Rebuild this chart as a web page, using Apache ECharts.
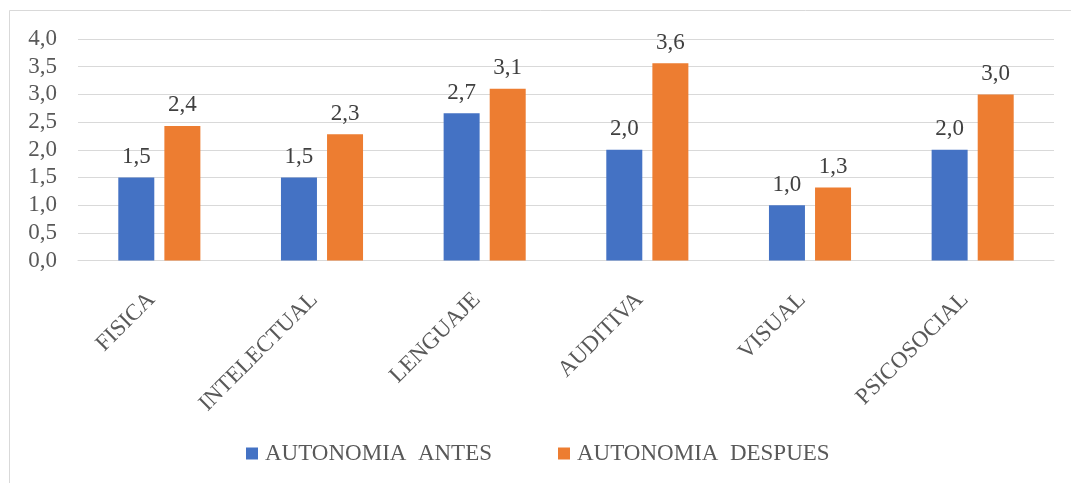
<!DOCTYPE html>
<html>
<head>
<meta charset="utf-8">
<script src="https://cdn.jsdelivr.net/npm/echarts@6/dist/echarts.min.js"></script>
<style>
  html, body { margin: 0; padding: 0; background: #ffffff; }
  #chart { width: 1071px; height: 483px; }
</style>
</head>
<body>
<div id="chart"></div>
<script>
// Autonomy scores by disability type, before and after
const categories = ['FISICA', 'INTELECTUAL', 'LENGUAJE', 'AUDITIVA', 'VISUAL', 'PSICOSOCIAL'];
const antes = [1.5, 1.5, 2.66, 2.0, 1.0, 2.0];
const despues = [2.43, 2.28, 3.1, 3.56, 1.32, 3.0];
const seriesNames = ['AUTONOMIA  ANTES', 'AUTONOMIA  DESPUES'];
const yTicks = [0, 0.5, 1, 1.5, 2, 2.5, 3, 3.5, 4];

const FONT = '"Liberation Serif", "Times New Roman", serif';
const fmt = v => Number(v).toFixed(1).replace('.', ',');

const chart = echarts.init(document.getElementById('chart'), null, { renderer: 'canvas' });

const labelStyle = {
  show: true,
  position: 'top',
  distance: 9,
  fontFamily: FONT,
  fontSize: 23,
  color: '#404040',
  formatter: p => fmt(p.value)
};

chart.setOption({
  animation: false,
  backgroundColor: '#ffffff',
  color: ['#4472C4', '#ED7D31'],
  graphic: [
    { type: 'line', shape: { x1: 9.5, y1: 10.5, x2: 1071, y2: 10.5 }, style: { stroke: '#d9d9d9', lineWidth: 1 } },
    { type: 'line', shape: { x1: 9.5, y1: 10.5, x2: 9.5, y2: 483 }, style: { stroke: '#d9d9d9', lineWidth: 1 } }
  ],
  grid: { left: 78, right: 17, top: 39, bottom: 222.5, containLabel: false },
  legend: {
    top: 437,
    left: 241,
    itemWidth: 12,
    itemHeight: 12,
    itemGap: 66,
    icon: 'rect',
    textStyle: { fontFamily: FONT, fontSize: 23, color: '#595959', padding: [0, 0, 0, 2] },
    data: seriesNames
  },
  xAxis: {
    type: 'category',
    data: categories,
    axisLine: { show: true, lineStyle: { color: '#d9d9d9' } },
    axisTick: { show: false },
    axisLabel: {
      rotate: 45,
      margin: 28,
      padding: [0, 11, 0, 0],
      interval: 0,
      fontFamily: FONT,
      fontSize: 23,
      color: '#595959'
    }
  },
  yAxis: {
    type: 'value',
    min: yTicks[0],
    max: yTicks[yTicks.length - 1],
    interval: 0.5,
    axisLine: { show: false },
    axisTick: { show: false },
    splitLine: { lineStyle: { color: '#d9d9d9', width: 1 } },
    axisLabel: {
      margin: 21,
      fontFamily: FONT,
      fontSize: 23,
      color: '#595959',
      formatter: v => fmt(v)
    }
  },
  series: [
    { name: seriesNames[0], type: 'bar', data: antes, barWidth: 36, barGap: '28%', label: labelStyle },
    { name: seriesNames[1], type: 'bar', data: despues, barWidth: 36, barGap: '28%', label: labelStyle }
  ]
});
</script>
</body>
</html>
